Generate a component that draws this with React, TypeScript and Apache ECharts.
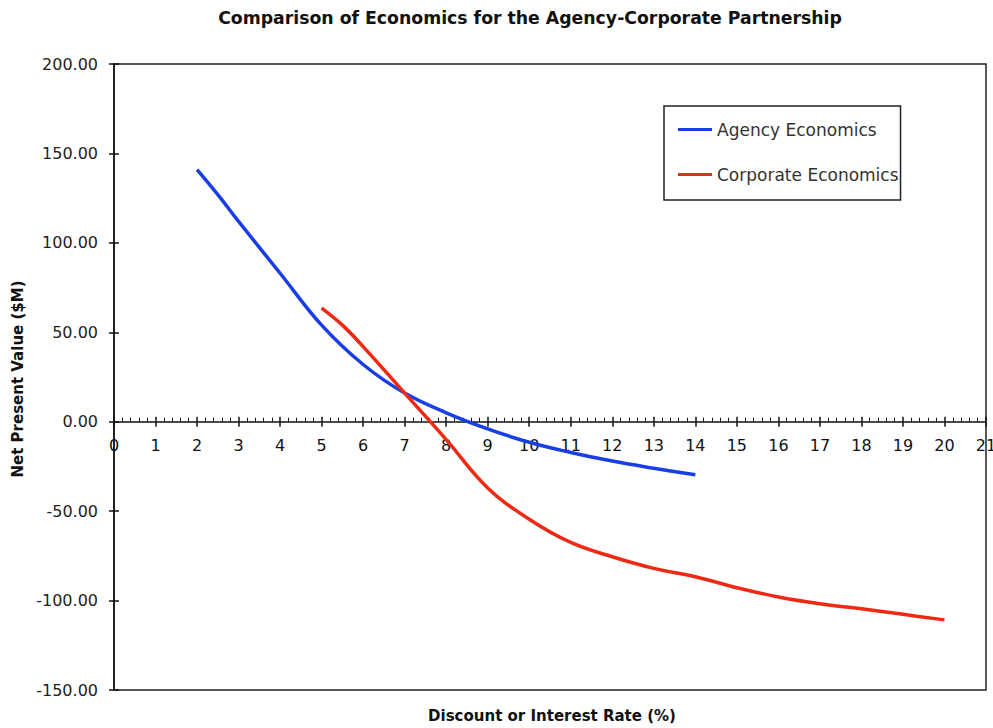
import React, { useEffect, useRef } from "react";
import * as echarts from "echarts";

const chartTitle = "Comparison of Economics for the Agency-Corporate Partnership";
const xAxisTitle = "Discount or Interest Rate (%)";
const yAxisTitle = "Net Present Value ($M)";

const agencyName = "Agency Economics";
const agencyRates = [2, 2.5, 3, 4, 5, 6, 7, 8, 9, 10, 11, 12, 13, 14];
const agencyNPV = [141, 127, 112, 83, 54, 32, 16, 5, -4, -11.5, -17.2, -22, -26, -29.7];

const corporateName = "Corporate Economics";
const corporateRates = [5, 5.5, 6, 7, 8, 9, 10, 11, 12, 13, 14, 15, 16, 17, 18, 19, 20];
const corporateNPV = [63.5, 54, 42, 16, -10, -37, -54.5, -67.5, -75.5, -82, -86.7, -92.8, -98, -101.8, -104.6, -107.7, -110.8];

const xMin = 0, xMax = 21, xStep = 1;
const yMin = -150, yMax = 200, yStep = 50;

const FONT = "'DejaVu Sans', 'Liberation Sans', Arial, sans-serif";

const GRID_TOP = 64;
const GRID_BOTTOM_PX = 690;

export default function App() {
  const ref = useRef<HTMLDivElement>(null);
  useEffect(() => {
    if (!ref.current) return;
    const chart = echarts.init(ref.current, undefined, { renderer: "svg" });
    const pair = (xs: number[], ys: number[]) => xs.map((x, i) => [x, ys[i]]);
    const axisLineStyle = { color: "#111", width: 1.5 };
    const zeroOffset = -((GRID_BOTTOM_PX - GRID_TOP) * (0 - yMin)) / (yMax - yMin);
    chart.setOption({
      animation: false,
      backgroundColor: "#fff",
      grid: {
        left: 114, right: 7, top: GRID_TOP, bottom: 728 - GRID_BOTTOM_PX,
        containLabel: false,
        outerBoundsMode: "none",
        show: true, borderColor: "#222", borderWidth: 1.5, backgroundColor: "transparent",
      },
      legend: {
        orient: "vertical",
        left: 664, top: 106,
        padding: [15, 2, 17, 14],
        itemGap: 28,
        itemWidth: 34, itemHeight: 3,
        icon: "rect",
        borderColor: "#222", borderWidth: 1.5,
        backgroundColor: "#fff",
        textStyle: { fontFamily: FONT, fontSize: 17, color: "#333", lineHeight: 16 },
        data: [agencyName, corporateName],
      },
      xAxis: [
        {
          type: "value", min: xMin, max: xMax, interval: xStep, position: "bottom",
          offset: zeroOffset,
          axisLine: { onZero: false, lineStyle: axisLineStyle },
          axisTick: { show: true, inside: true, length: 5, lineStyle: { color: "#111", width: 1.5 } },
          minorTick: { show: true, splitNumber: 5, length: 4, lineStyle: { color: "#111", width: 1 } },
          splitLine: { show: false },
          axisLabel: {
            margin: 16, fontFamily: FONT, fontSize: 16, color: "#111",
            showMinLabel: true, showMaxLabel: true,
          },
        },
        {
          type: "value", min: xMin, max: xMax, interval: xStep, position: "bottom",
          offset: zeroOffset,
          axisLine: { show: false, onZero: false },
          axisTick: { show: true, inside: false, length: 5, lineStyle: { color: "#111", width: 1.5 } },
          splitLine: { show: false },
          axisLabel: { show: false },
        },
      ],
      yAxis: [
        {
          type: "value", min: yMin, max: yMax, interval: yStep,
          axisLine: { show: true, onZero: false, lineStyle: axisLineStyle },
          axisTick: { show: true, inside: false, length: 5, lineStyle: { color: "#111", width: 1.5 } },
          splitLine: { show: false },
          axisLabel: {
            margin: 16, fontFamily: FONT, fontSize: 16, color: "#222",
            formatter: (v: number) => v.toFixed(2),
          },
        },
        {
          type: "value", min: yMin, max: yMax, interval: yStep, position: "left",
          axisLine: { show: false, onZero: false },
          axisTick: { show: true, inside: true, length: 5, lineStyle: { color: "#111", width: 1.5 } },
          splitLine: { show: false },
          axisLabel: { show: false },
        },
      ],
      series: [
        {
          name: agencyName, type: "line", xAxisIndex: 0, yAxisIndex: 0,
          data: pair(agencyRates, agencyNPV),
          smooth: 0.4, symbol: "none", showSymbol: false,
          lineStyle: { color: "#1a3ee6", width: 3.5 }, itemStyle: { color: "#1a3ee6" },
        },
        {
          name: corporateName, type: "line", xAxisIndex: 0, yAxisIndex: 0,
          data: pair(corporateRates, corporateNPV),
          smooth: 0.4, symbol: "none", showSymbol: false,
          lineStyle: { color: "#ee2a14", width: 3.5 }, itemStyle: { color: "#ee2a14" },
        },
      ],
      graphic: [
        {
          type: "text", x: 530, y: 18,
          style: { text: chartTitle, align: "center", verticalAlign: "middle", fontFamily: FONT, fontSize: 17.3, fontWeight: "bold", fill: "#111" },
        },
        {
          type: "text", x: 552, y: 716,
          style: { text: xAxisTitle, align: "center", verticalAlign: "middle", fontFamily: FONT, fontSize: 15, fontWeight: "bold", fill: "#111" },
        },
        {
          type: "text", x: 18, y: 379, rotation: Math.PI / 2,
          style: { text: yAxisTitle, align: "center", verticalAlign: "middle", fontFamily: FONT, fontSize: 15, fontWeight: "bold", fill: "#111" },
        },
      ],
    });
    return () => chart.dispose();
  }, []);
  return <div ref={ref} style={{ position: "fixed", left: 0, top: 0, width: 993, height: 728 }} />;
}
